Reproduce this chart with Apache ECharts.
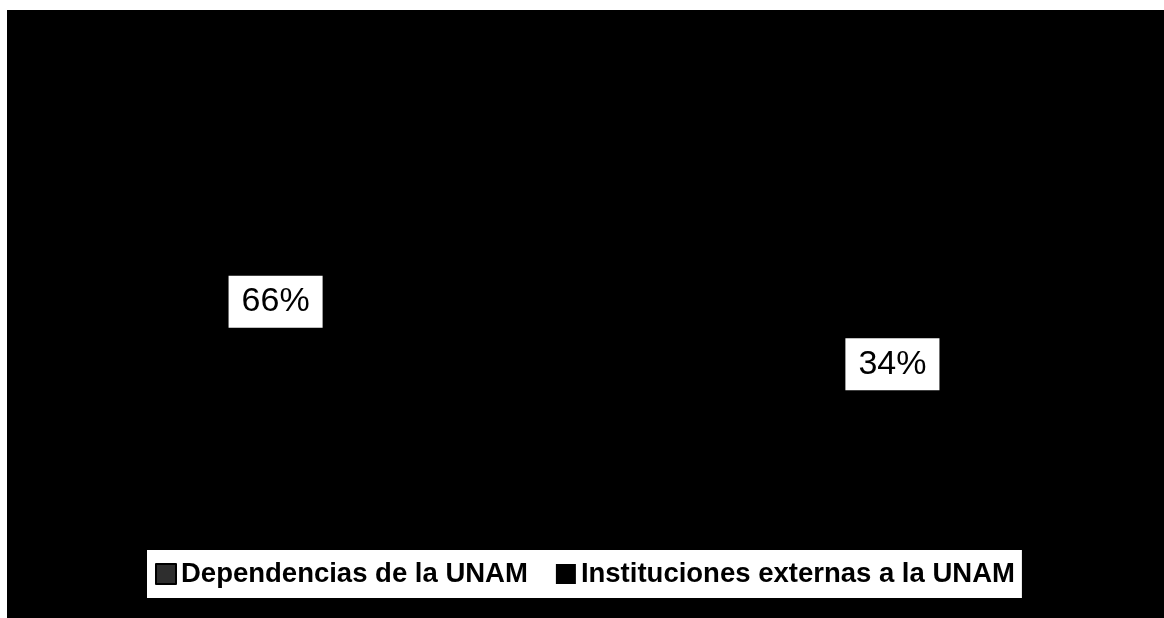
<!DOCTYPE html>
<html>
<head>
<meta charset="utf-8">
<script src="https://cdn.jsdelivr.net/npm/echarts@6/dist/echarts.min.js"></script>
<style>
  html, body { margin: 0; padding: 0; background: #fff; width: 1164px; height: 618px; overflow: hidden; }
  /* scanned page: dark chart area with a thin white margin top and left */
  #chart { position: absolute; left: 7px; top: 10px; width: 1157px; height: 608px; }
</style>
</head>
<body>
<div id="chart"></div>
<script>
const categories = ['Dependencias de la UNAM', 'Instituciones externas a la UNAM'];
const shares = [66, 34];

const chart = echarts.init(document.getElementById('chart'));

const option = {
  backgroundColor: '#000',
  animation: false,
  legend: {
    left: 140,
    top: 540,
    orient: 'horizontal',
    backgroundColor: '#fff',
    padding: [10, 7, 10, 8],
    itemWidth: 20,
    itemHeight: 20,
    itemGap: 28,
    selectedMode: false,
    textStyle: {
      fontFamily: 'Liberation Sans',
      fontWeight: 'bold',
      fontSize: 27.5,
      color: '#000'
    },
    data: [
      { name: categories[0], icon: 'rect', itemStyle: { color: '#2e2e2e', borderColor: '#000', borderWidth: 2 } },
      { name: categories[1], icon: 'rect', itemStyle: { color: '#000' } }
    ]
  },
  series: [
    {
      type: 'pie',
      center: [577, 323],
      radius: [200, 414],
      startAngle: -67,
      clockwise: true,
      silent: true,
      avoidLabelOverlap: false,
      itemStyle: { borderWidth: 0 },
      label: {
        show: true,
        position: 'inside',
        rotate: 0,
        formatter: '{c}%',
        fontFamily: 'Liberation Sans',
        fontSize: 34,
        color: '#000',
        backgroundColor: '#fff',
        padding: [9, 13]
      },
      labelLine: { show: false },
      // slices are black on black in the scan
      data: categories.map((name, i) => ({
        name: name,
        value: shares[i],
        itemStyle: { color: '#000' }
      }))
    }
  ]
};

chart.setOption(option);
</script>
</body>
</html>
